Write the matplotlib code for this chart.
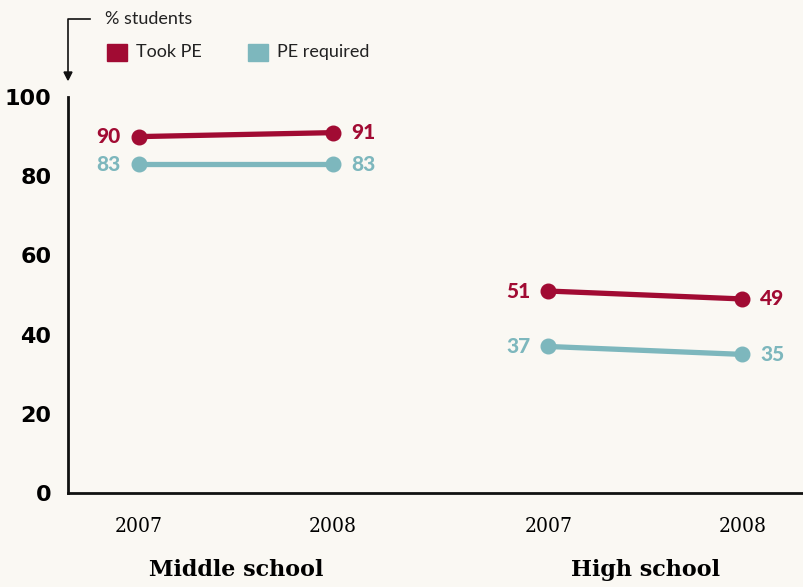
import matplotlib.pyplot as plt
import numpy as np

# data
years = ['2007', '2008', '2007', '2008']
groups = ['Middle school', 'High school']
took_pe = [90, 91, 51, 49]
pe_required = [83, 83, 37, 35]

red = '#a10b33'
teal = '#7db7bd'
bg = '#faf8f3'

plt.rcParams['font.family'] = ['Lato', 'DejaVu Sans']

fig = plt.figure(figsize=(8.04, 5.87), dpi=100, facecolor=bg)
ax = fig.add_axes([68 / 804, 1 - 493 / 587, 1 - 68 / 804, (493 - 97) / 587])
ax.set_facecolor(bg)

# x positions of the categories: two groups, small gap between
xpos = np.array([0, 1, 2.11, 3.11])

for vals, col in [(took_pe, red), (pe_required, teal)]:
    for g in range(2):
        xs = xpos[2 * g:2 * g + 2]
        ys = vals[2 * g:2 * g + 2]
        ax.plot(xs, ys, color=col, lw=3.8, marker='o', ms=10.5, solid_capstyle='round', zorder=3)
        ax.annotate(str(ys[0]), (xs[0], ys[0]), xytext=(-13, 0), textcoords='offset points',
                    ha='right', va='center', color=col, fontsize=15, fontweight='black')
        ax.annotate(str(ys[1]), (xs[1], ys[1]), xytext=(13, 0), textcoords='offset points',
                    ha='left', va='center', color=col, fontsize=15, fontweight='black')

ax.set_xlim((68 - 139) / 194, (804 - 139) / 194)
ax.set_ylim(0, 100)
ax.set_yticks([0, 20, 40, 60, 80, 100])
ax.set_yticklabels(['0', '20', '40', '60', '80', '100'], fontsize=16, fontweight='heavy',
                   family='DejaVu Sans')
ax.tick_params(axis='y', length=0, pad=12)
ax.set_xticks(xpos)
ax.set_xticklabels(years, fontsize=15, family='DejaVu Serif', stretch='condensed')
ax.tick_params(axis='x', length=0, pad=17)
for sp in ['top', 'right']:
    ax.spines[sp].set_visible(False)
for sp in ['left', 'bottom']:
    ax.spines[sp].set_linewidth(2)
    ax.spines[sp].set_color('#111111')

for g, name in enumerate(groups):
    cx = xpos[2 * g:2 * g + 2].mean()
    ax.annotate(name, (cx, 0), xytext=(0, -77), textcoords='offset pixels', ha='center',
                va='center', fontsize=16, fontweight='bold', family='DejaVu Serif')

# unit label with bent arrow
fig.text(105 / 804, 1 - 19 / 587, '% students', fontsize=13, va='center', color='#222222')
fig.add_artist(plt.Line2D([90 / 804, 68 / 804, 68 / 804], [1 - 19 / 587, 1 - 19 / 587, 1 - 72 / 587],
                          color='#111111', lw=1.2))
fig.add_artist(plt.Polygon([[64 / 804, 1 - 72 / 587], [72 / 804, 1 - 72 / 587], [68 / 804, 1 - 80 / 587]],
                           closed=True, color='#111111'))

# legend
for x0, lab, col in [(107, 'Took PE', red), (248, 'PE required', teal)]:
    fig.add_artist(plt.Rectangle((x0 / 804, 1 - 61 / 587), 20 / 804, 17 / 587, color=col))
    fig.text((x0 + 29) / 804, 1 - 52 / 587, lab, fontsize=13, va='center', color='#222222')

fig.savefig('out.png', dpi=100, facecolor=bg)
